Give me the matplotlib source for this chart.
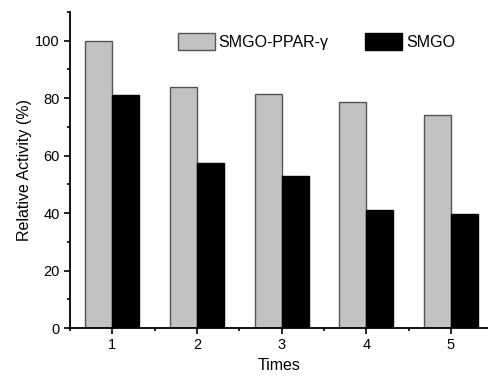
import numpy as np
from matplotlib import pyplot as plt
from matplotlib.ticker import MultipleLocator

# Relative activity over repeated use
times = [1, 2, 3, 4, 5]
smgo_ppar = [100, 83.8, 81.4, 78.7, 74.0]
smgo = [81.0, 57.3, 52.9, 41.1, 39.7]

plt.rcParams['font.family'] = ['Liberation Sans', 'DejaVu Sans']

fig = plt.figure(figsize=(4.89, 3.76), dpi=100)
ax = fig.add_axes([70 / 489, 48 / 376, 419 / 489, 316 / 376])

x = np.array(times)
w = 0.32
ax.bar(x - w / 2, smgo_ppar, width=w, color='#c2c2c2', edgecolor='#555555',
       linewidth=1.0, label='SMGO-PPAR-γ')
ax.bar(x + w / 2, smgo, width=w, color='black', edgecolor='black',
       linewidth=1.0, label='SMGO')

ax.set_xlim(0.5, 5.45)
ax.set_ylim(0, 110)
ax.set_xticks(times)
ax.set_yticks([0, 20, 40, 60, 80, 100])
ax.xaxis.set_minor_locator(MultipleLocator(0.5))
ax.yaxis.set_minor_locator(MultipleLocator(10))
ax.tick_params(which='both', direction='out', width=1.2, labelsize=10.5)
ax.tick_params(which='major', length=4)
ax.tick_params(which='minor', length=2.5)
for s in ['top', 'right']:
    ax.spines[s].set_visible(False)
for s in ['left', 'bottom']:
    ax.spines[s].set_linewidth(1.3)

ax.set_xlabel('Times', fontsize=11.5, labelpad=4)
ax.set_ylabel('Relative Activity (%)', fontsize=11.5, labelpad=2)

ax.legend(ncol=2, frameon=False, loc='center left',
          bbox_to_anchor=(178 / 489, 1 - 41.5 / 376),
          bbox_transform=fig.transFigure, borderpad=0, borderaxespad=0,
          fontsize=11.5, handlelength=2.3, handleheight=1.25, columnspacing=2.3,
          handletextpad=0.25)

plt.savefig('out.png', dpi=100)
